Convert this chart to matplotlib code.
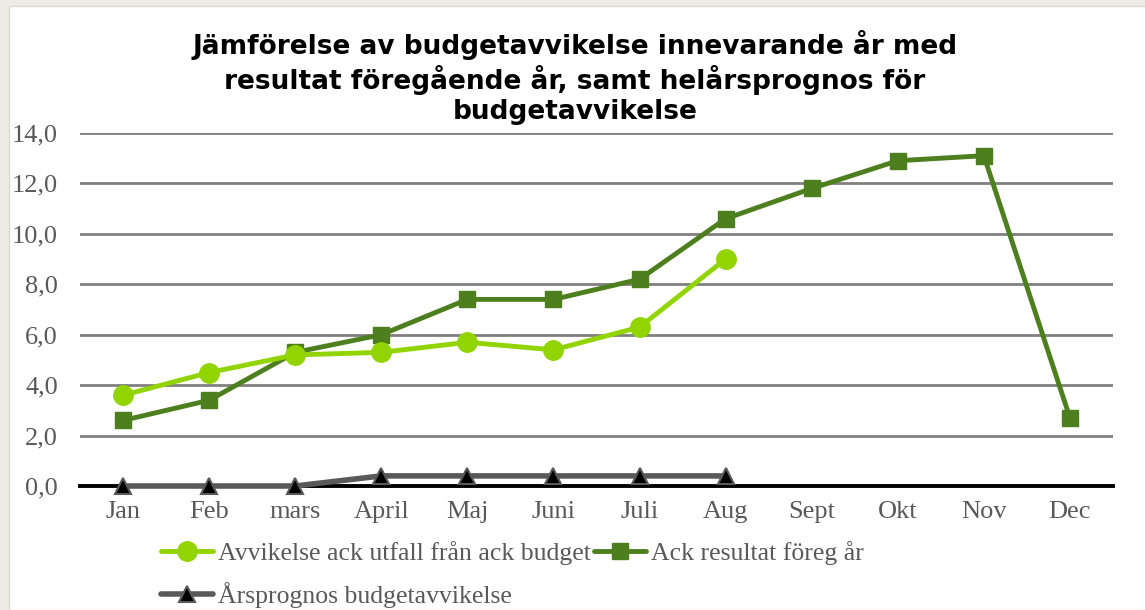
import matplotlib.pyplot as plt
from matplotlib.patches import Rectangle

months = ['Jan', 'Feb', 'mars', 'April', 'Maj', 'Juni', 'Juli', 'Aug',
          'Sept', 'Okt', 'Nov', 'Dec']
avvikelse = [3.6, 4.5, 5.2, 5.3, 5.7, 5.4, 6.3, 9.0]
foreg_ar = [2.6, 3.4, 5.3, 6.0, 7.4, 7.4, 8.2, 10.6, 11.8, 12.9, 13.1, 2.7]
prognos = [0.0, 0.0, 0.0, 0.4, 0.4, 0.4, 0.4, 0.4]

labels = ['Avvikelse ack utfall från ack budget', 'Ack resultat föreg år',
          'Årsprognos budgetavvikelse']

light_green = '#92D400'
dark_green = '#4E7F1E'
grey = '#595959'

fig = plt.figure(figsize=(11.45, 6.10), dpi=100, facecolor='#EEEBE5')
fig.patches.append(Rectangle((9/1145, 0), 1, 1 - 6/610, transform=fig.transFigure,
                             facecolor='white', edgecolor='#DDDAD4', lw=1, zorder=-5))

ax = fig.add_axes([80/1145, 1 - 486/610, 1033/1145, 353/610])
ax.set_facecolor('none')

x_all = list(range(len(months)))
l1, = ax.plot(x_all[:len(avvikelse)], avvikelse, color=light_green, lw=3.5,
              marker='o', ms=14, zorder=4, solid_capstyle='round')
l2, = ax.plot(x_all, foreg_ar, color=dark_green, lw=3.5, marker='s', ms=12,
              zorder=3, solid_capstyle='round')
l3, = ax.plot(x_all[:len(prognos)], prognos, color=grey, lw=4, marker='^', ms=11,
              markerfacecolor='black', markeredgecolor=grey, markeredgewidth=1.5,
              zorder=5, solid_capstyle='round', clip_on=False)

ax.set_xlim(-0.5, 11.5)
ax.set_ylim(0, 14)
ax.set_yticks([0, 2, 4, 6, 8, 10, 12, 14])
ax.set_yticklabels(['{:.1f}'.format(v).replace('.', ',') for v in ax.get_yticks()])
ax.set_xticks(x_all)
ax.set_xticklabels(months)

for v in [2, 4, 6, 8, 10, 12, 14]:
    ax.axhline(v, color='#808080', lw=2, zorder=1)
ax.axhline(0, color='black', lw=2.8, zorder=2, clip_on=False)

for s in ax.spines.values():
    s.set_visible(False)
ax.tick_params(length=0, colors='#595959', labelsize=19)
ax.tick_params(axis='x', pad=11)
ax.tick_params(axis='y', pad=16)
for t in ax.get_xticklabels() + ax.get_yticklabels():
    t.set_fontfamily('Liberation Serif')

fig.text(575/1145, 1 - 30/610,
         'Jämförelse av budgetavvikelse innevarande år med\n'
         'resultat föregående år, samt helårsprognos för\n'
         'budgetavvikelse',
         ha='center', va='top', fontsize=19, fontweight='bold',
         family='DejaVu Sans', linespacing=1.2)

# column-major fill, so reorder to get A B / C by rows
leg = fig.legend([l1, l3, l2], [labels[0], labels[2], labels[1]], ncol=2,
                 frameon=False, loc='upper left',
                 bbox_to_anchor=(138/1145, 1 - 518/610),
                 prop={'family': 'Liberation Serif', 'size': 18.5},
                 handlelength=2.0, handletextpad=0.2, columnspacing=0.15,
                 labelspacing=0.65, labelcolor='#595959')

fig.savefig('out.png', dpi=100, facecolor=fig.get_facecolor())
